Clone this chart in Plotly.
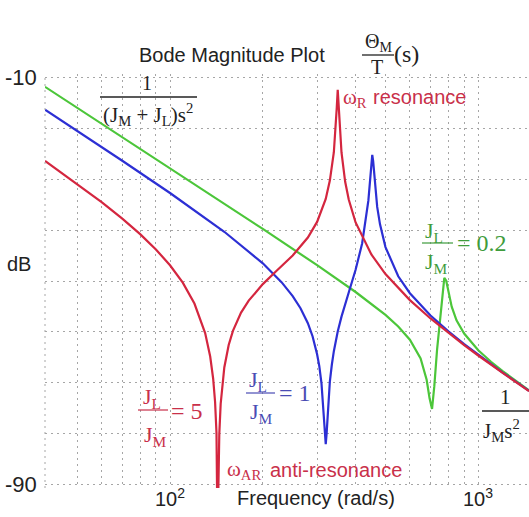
import math
import plotly.graph_objects as go

# ---------------- data ----------------
freq_red = [39.3, 50, 60, 70, 80, 90, 100, 110, 120, 130, 135, 138, 140, 141.5, 142.6,
            144.5, 146, 150, 155, 160, 170, 180, 200, 220, 250, 280, 300, 320, 330, 340,
            345, 347.5, 350, 352.5, 355, 360, 370, 380, 400, 450, 500, 600, 700, 800, 900,
            1000, 1100, 1200, 1461]
db_red = [-26.45, -30.94, -34.52, -37.76, -40.8, -43.81, -46.91, -50.33, -54.42, -60.22,
          -64.81, -69.12, -73.69, -79.8, -100.0, -80.0, -74.07, -66.95, -62.54, -59.78,
          -56.2, -53.85, -50.61, -48.2, -45.0, -41.47, -38.41, -33.91, -30.3, -24.75,
          -19.7, -16.0, -12.5, -16.0, -19.73, -24.79, -30.55, -34.01, -38.52, -44.8,
          -48.64, -53.75, -57.35, -60.2, -62.57, -64.61, -66.43, -68.03, -71.61]

freq_blue = [39.3, 50, 70, 100, 150, 200, 230, 250, 265, 280, 290, 300, 305, 310, 315, 318,
             320, 322, 325, 330, 335, 340, 350, 360, 380, 400, 420, 435, 440, 445, 450, 453,
             456, 460, 470, 480, 500, 550, 600, 700, 800, 900, 1000, 1200, 1461]
db_blue = [-16.4, -20.55, -26.41, -32.74, -40.34, -46.53, -50.22, -52.95, -55.33, -58.27,
           -60.83, -64.36, -66.7, -70.06, -75.29, -79.99, -82.0, -80.02, -75.1, -69.75,
           -66.38, -63.77, -59.91, -56.99, -52.25, -47.8, -42.64, -36.97, -34.25, -30.75,
           -26.58, -25.26, -26.45, -29.57, -35.48, -38.89, -43.35, -49.08, -52.4, -56.78,
           -59.89, -62.38, -64.48, -67.96, -71.56]

freq_green = [39.3, 50, 70, 100, 150, 200, 300, 400, 500, 550, 600, 650, 680, 695, 708, 720,
              735, 750, 765, 776, 787, 800, 820, 850, 900, 1000, 1100, 1200, 1461]
db_green = [-11.91, -16.02, -21.76, -27.87, -34.83, -39.79, -46.89, -52.16, -56.65, -58.92,
            -61.51, -65.2, -69.37, -72.99, -75.1, -70.67, -63.52, -57.96, -52.22, -49.4,
            -49.95, -52.21, -55.03, -57.71, -60.31, -63.58, -65.84, -67.67, -71.46]

x_gridvals = [50, 60, 70, 80, 90, 100, 200, 300, 400, 500, 600, 700, 800, 900, 1000]
x_label_vals = [100, 1000]
x_label_text = ["10<sup>2</sup>", "10<sup>3</sup>"]
y_gridvals = [-90, -80, -70, -60, -50, -40, -30, -20, -10]
y_label_vals = [-90, -10]
y_label_text = ["-90", "-10"]

# ---------------- styling ----------------
W, H = 529, 517
ML, MR, MT, MB = 45, 0, 74, 29
PW, PH = W - ML - MR, H - MT - MB
X_RANGE = [math.log10(39.3), 3.1646]
Y_RANGE = [-90.6, -9.4]

RED, BLUE, GREEN = "#d4263f", "#2c2fd4", "#4cc63a"
RED_T, BLUE_T, GREEN_T = "#c9304a", "#4a4cb4", "#3f9c3c"
DARK = "#222222"
SANS = "Liberation Sans, Arial, sans-serif"
SERIF = "Liberation Serif, Times New Roman, serif"
GRID = "#a6a6a6"


def px(x):
    return (x - ML) / PW


def py(y):
    return (MT + PH - y) / PH


fig = go.Figure()
for fr, db, col in [(freq_green, db_green, GREEN), (freq_blue, db_blue, BLUE), (freq_red, db_red, RED)]:
    fig.add_trace(go.Scatter(x=fr, y=db, mode="lines", line=dict(color=col, width=2.2),
                             hoverinfo="skip", showlegend=False))

annotations = []


def ann(text, x, y, size=20, color=DARK, family=SANS, xanchor="center"):
    annotations.append(dict(text=text, x=px(x), y=py(y), xref="paper", yref="paper",
                            showarrow=False, xanchor=xanchor, yanchor="middle",
                            font=dict(size=size, color=color, family=family)))


shapes = []


def hline(x0, x1, y, color=DARK, width=1.3):
    shapes.append(dict(type="line", xref="paper", yref="paper", x0=px(x0), x1=px(x1),
                       y0=py(y), y1=py(y), line=dict(color=color, width=width)))


# tick labels placed from the axis scales
for v, t in zip(x_label_vals, x_label_text):
    xp = (math.log10(v) - X_RANGE[0]) / (X_RANGE[1] - X_RANGE[0])
    annotations.append(dict(text=t, x=xp, y=py(497), xref="paper", yref="paper",
                            showarrow=False, xanchor="center", yanchor="middle",
                            font=dict(size=20, color=DARK, family=SANS)))
for v, t in zip(y_label_vals, y_label_text):
    annotations.append(dict(text=t, x=px(21), y=v, xref="paper", yref="y",
                            showarrow=False, xanchor="center", yanchor="middle",
                            font=dict(size=22, color=DARK, family=SANS)))

# title with transfer function
ann("Bode Magnitude Plot", 232, 55, 20)
ann("Θ<sub>M</sub>", 378, 42, 20, family=SERIF)
hline(362, 394, 55)
ann("T", 377, 67, 20, family=SERIF)
ann("(s)", 406, 54, 24, family=SERIF)

# axis texts
ann("dB", 19, 264, 20)
ann("Frequency (rad/s)", 316, 498, 20)

# low-frequency asymptote
ann("1", 147, 83, 20, family=SERIF)
hline(100, 197, 97)
ann("(J<sub>M</sub> + J<sub>L</sub>)s<sup>2</sup>", 148, 114, 21, family=SERIF)

# resonance
ann("ω<sub>R</sub>", 355, 98, 21, RED_T, SERIF)
ann("resonance", 371, 97, 20, RED_T, SANS, "left")

# J_L/J_M = 0.2
ann("J<sub>L</sub>", 434, 232, 22, GREEN_T, SERIF)
hline(422, 453, 243, GREEN_T, 1.2)
ann("J<sub>M</sub>", 436, 263, 22, GREEN_T, SERIF)
ann("= 0.2", 455, 243, 24, GREEN_T, SERIF, "left")

# J_L/J_M = 5
ann("J<sub>L</sub>", 152, 398, 22, RED_T, SERIF)
hline(138, 168, 410, RED_T, 1.2)
ann("J<sub>M</sub>", 155, 436, 22, RED_T, SERIF)
ann("= 5", 169, 411, 24, RED_T, SERIF, "left")

# J_L/J_M = 1
ann("J<sub>L</sub>", 258, 381, 22, BLUE_T, SERIF)
hline(246, 275, 393, BLUE_T, 1.2)
ann("J<sub>M</sub>", 261, 413, 22, BLUE_T, SERIF)
ann("= 1", 277, 393, 24, BLUE_T, SERIF, "left")

# anti-resonance
ann("ω<sub>AR</sub>", 244, 470, 21, RED_T, SERIF)
ann("anti-resonance", 268, 470, 20, RED_T, SANS, "left")

# high-frequency asymptote
ann("1", 505, 397, 21, family=SERIF)
hline(482, 529, 411)
ann("J<sub>M</sub>s<sup>2</sup>", 481, 430, 21, family=SERIF, xanchor="left")

# left dotted border
shapes.append(dict(type="line", xref="paper", yref="paper", x0=0, x1=0, y0=0, y1=1,
                   line=dict(color=GRID, width=1, dash="2px,4px")))

fig.update_layout(
    width=W, height=H, autosize=False,
    margin=dict(l=ML, r=MR, t=MT, b=MB, pad=0),
    paper_bgcolor="white", plot_bgcolor="white",
    annotations=annotations, shapes=shapes,
    xaxis=dict(type="log", range=X_RANGE, automargin=False,
               tickmode="array", tickvals=x_gridvals, showticklabels=False,
               showgrid=True, gridcolor=GRID, gridwidth=1, griddash="2px,4px",
               zeroline=False, showline=False, ticks=""),
    yaxis=dict(range=Y_RANGE, automargin=False, tickmode="array", tickvals=y_gridvals,
               showticklabels=False, showgrid=True, gridcolor=GRID, gridwidth=1,
               griddash="2px,4px", zeroline=False, showline=False, ticks=""),
)

fig.write_html("out.html", config={"displayModeBar": False},
               post_script="document.body.style.margin='0px';document.body.style.padding='0px';")
